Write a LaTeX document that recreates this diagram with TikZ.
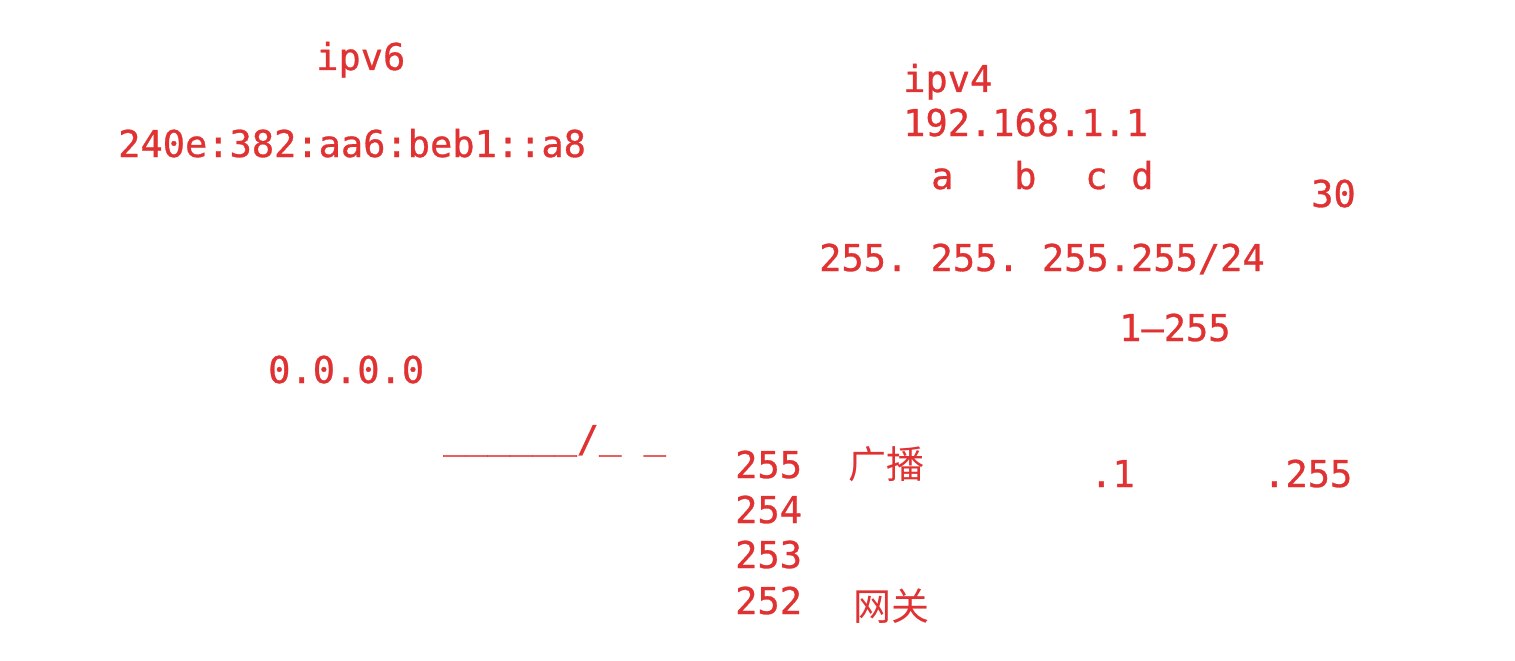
\documentclass[tikz,border=0pt]{standalone}
\usepackage{fontspec}
\setmonofont[FakeBold=0.8]{DejaVu Sans Mono}
\newfontfamily\cjk{Noto Sans CJK SC}
\definecolor{ink}{RGB}{224,50,50}
\begin{document}
\begin{tikzpicture}[x=1pt,y=-1pt,
  t/.style={anchor=base west,inner sep=0pt,text=ink,font=\fontsize{37}{40}\ttfamily},
  c/.style={anchor=base west,inner sep=0pt,text=ink,font=\fontsize{38}{40}\cjk}]
\useasboundingbox (0,0) rectangle (1515,661);
\node[t] (ipv6) at (316,70) {ipv6};
\node[t] (v6addr) at (118,157) {240e:382:aa6:beb1::a8};
\node[t] (ipv4) at (903,92) {ipv4};
\node[t] (v4addr) at (903,136) {192.168.1.1};
\node[t] (la) at (931,189) {a};
\node[t] (lb) at (1014,189) {b};
\node[t] (lc) at (1085,189) {c};
\node[t] (ld) at (1131,189) {d};
\node[t] (thirty) at (1311,207) {30};
\node[t] (mask) at (819,271) {255. 255. 255.255/24};
\node[t] (range) at (1119,341) {1–255};
\node[t] (zero) at (268,383) {0.0.0.0};
\node[t] (slash) at (443,452) {\raisebox{4pt}{\_\_\_\_\_\_}/\raisebox{4pt}{\_} \raisebox{4pt}{\_}};
\node[t] (n255) at (735,478) {255};
\node[t] (n254) at (735,523) {254};
\node[t] (n253) at (735,568) {253};
\node[t] (n252) at (735,614) {252};
\node[c] (bcast) at (848,478) {广播};
\node[c] (gw) at (853,620) {网关};
\node[t] (dot1) at (1090,487) {.1};
\node[t] (dot255) at (1263,487) {.255};
\end{tikzpicture}
\end{document}
